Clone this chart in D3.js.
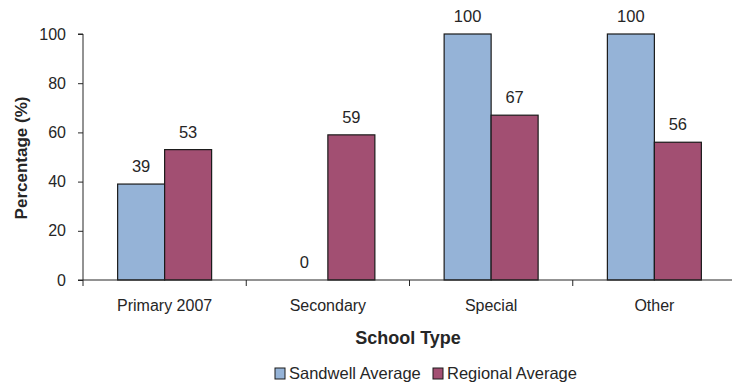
<!DOCTYPE html>
<html>
<head>
<meta charset="utf-8">
<script src="https://cdn.jsdelivr.net/npm/d3@7"></script>
<style>
  html, body { margin: 0; padding: 0; background: #fff; }
  svg { display: block; }
  text { font-family: "Liberation Sans", Arial, sans-serif; fill: #262626; }
</style>
</head>
<body>
<svg id="chart" width="732" height="385"></svg>
<script>
// School types and the two averages (percent)
const categories = ["Primary 2007", "Secondary", "Special", "Other"];
const seriesNames = ["Sandwell Average", "Regional Average"];
const sandwell = [39, 0, 100, 100];
const regional = [53, 59, 67, 56];
const yTicks = [0, 20, 40, 60, 80, 100];
const colors = ["#95B3D7", "#A24F72"];

const svg = d3.select("#chart");
const plotLeft = 83, plotRight = 736, plotTop = 34, plotBottom = 280;

const x = d3.scaleBand().domain(categories).range([plotLeft, plotRight]).paddingInner(0).paddingOuter(0);
const inner = d3.scaleBand().domain(seriesNames).range([0, x.bandwidth()]).paddingInner(0).paddingOuter(0.737);
const y = d3.scaleLinear().domain([0, 100]).range([plotBottom, plotTop]);

const rows = categories.map((c, i) => ({ cat: c, vals: [sandwell[i], regional[i]] }));

// bars
const groups = svg.append("g").selectAll("g").data(rows).join("g")
  .attr("transform", d => `translate(${x(d.cat)},0)`);

groups.selectAll("rect")
  .data(d => d.vals.map((v, j) => ({ v, j })).filter(e => e.v > 0))
  .join("rect")
  .attr("x", e => inner(seriesNames[e.j]))
  .attr("y", e => y(e.v))
  .attr("width", inner.bandwidth())
  .attr("height", e => y(0) - y(e.v))
  .attr("fill", e => colors[e.j])
  .attr("stroke", "#1a1a1a")
  .attr("stroke-width", 1.2);

// value labels
groups.selectAll("text.val")
  .data(d => d.vals.map((v, j) => ({ v, j })))
  .join("text")
  .attr("class", "val")
  .attr("x", e => inner(seriesNames[e.j]) + inner.bandwidth() / 2)
  .attr("y", e => y(e.v) - 12)
  .attr("text-anchor", "middle")
  .style("font-size", "16.5px")
  .text(e => e.v);

// y axis
const yAxis = svg.append("g")
  .attr("transform", `translate(${plotLeft},0)`)
  .call(d3.axisLeft(y).tickValues(yTicks).tickSize(5).tickPadding(12));
yAxis.select(".domain").attr("stroke", "#262626").attr("d", `M-5,${plotBottom}H0V${plotTop}H-5`);
yAxis.selectAll(".tick line").attr("stroke", "#262626");
yAxis.selectAll(".tick text").style("font-size", "16px").style("font-family", "Liberation Sans, Arial, sans-serif").attr("fill", "#262626");

// x axis
const xAxis = svg.append("g")
  .attr("transform", `translate(0,${plotBottom})`)
  .call(d3.axisBottom(x).tickSize(0).tickPadding(20));
xAxis.select(".domain").attr("stroke", "#262626").attr("d", `M${plotLeft},0H${plotRight}`);
xAxis.selectAll(".tick text").style("font-size", "16px").style("font-family", "Liberation Sans, Arial, sans-serif").attr("fill", "#262626");
// category separators
xAxis.selectAll("line.sep")
  .data(categories)
  .join("line")
  .attr("class", "sep")
  .attr("x1", d => x(d)).attr("x2", d => x(d))
  .attr("y1", 0).attr("y2", 6)
  .attr("stroke", "#262626");

// axis titles
svg.append("text")
  .attr("transform", `translate(27,158) rotate(-90)`)
  .attr("text-anchor", "middle")
  .style("font-size", "17px").style("font-weight", "bold")
  .text("Percentage (%)");

svg.append("text")
  .attr("x", 408).attr("y", 344)
  .attr("text-anchor", "middle")
  .style("font-size", "18px").style("font-weight", "bold")
  .text("School Type");

// legend
const legendX = [275, 433];
const legend = svg.append("g").selectAll("g").data(seriesNames).join("g")
  .attr("transform", (d, i) => `translate(${legendX[i]},368)`);
legend.append("rect")
  .attr("width", 10).attr("height", 11)
  .attr("fill", (d, i) => colors[i])
  .attr("stroke", "#1a1a1a").attr("stroke-width", 1);
legend.append("text")
  .attr("x", 14).attr("y", 11)
  .style("font-size", "16.5px")
  .text(d => d);
</script>
</body>
</html>
